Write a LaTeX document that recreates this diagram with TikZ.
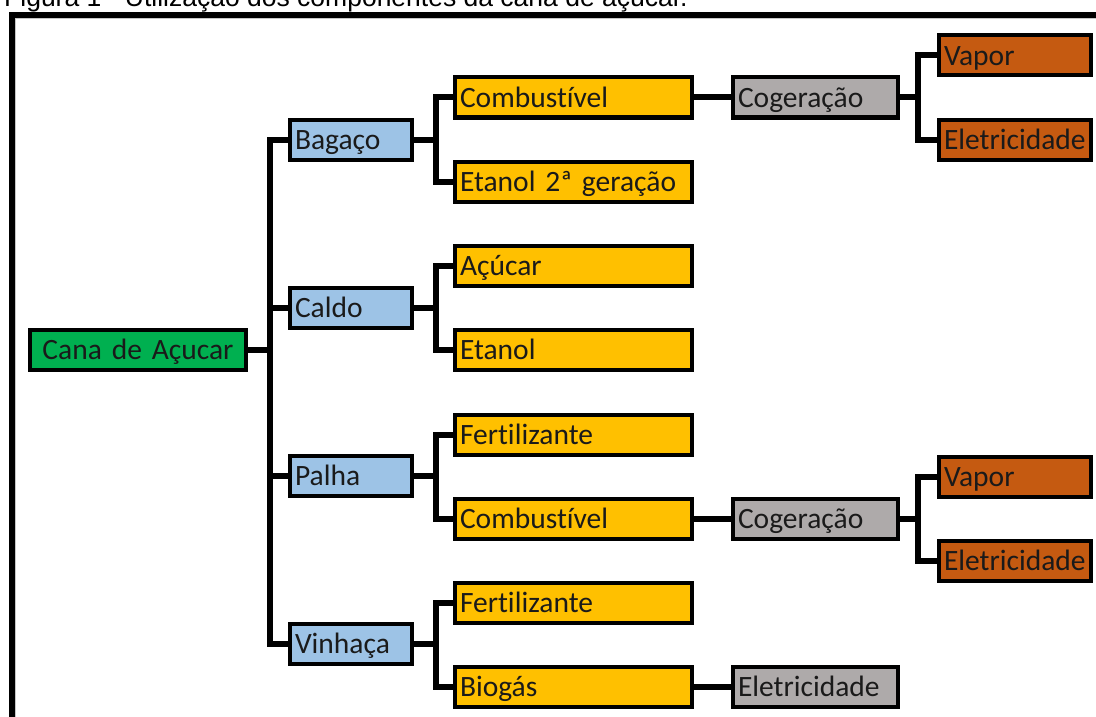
\documentclass[tikz,border=0pt]{standalone}
\usepackage{fontspec}
\usetikzlibrary{backgrounds}
\setmainfont[Ligatures={NoCommon}]{Carlito}
\newfontfamily\capfont{Liberation Sans}
\definecolor{cgreen}{HTML}{00B050}
\definecolor{cblue}{HTML}{9DC3E6}
\definecolor{cyellow}{HTML}{FFC000}
\definecolor{cgray}{HTML}{AEAAAA}
\definecolor{corange}{HTML}{C55A11}
\definecolor{ctext}{HTML}{1A1A1A}
\tikzset{
  x=1pt, y=-1pt,
  box/.style={draw=black, line width=4pt, rectangle, inner xsep=5pt, inner ysep=0pt, outer sep=0pt,
    minimum height=40pt, text height=22pt, text depth=2pt, align=left, anchor=west, text=ctext,
    font=\fontsize{29.5}{31}\selectfont},
  greenbox/.style={box, fill=cgreen, minimum width=216pt, align=center, text width=206pt},
  bluebox/.style={box, fill=cblue, text width=112pt},
  yellowbox/.style={box, fill=cyellow, text width=227pt},
  graybox/.style={box, fill=cgray, text width=155pt},
  orangebox/.style={box, fill=corange, text width=142pt},
  conn/.style={draw=black, line width=6pt, line join=miter},
  frame/.style={draw=black, line width=5.5pt},
}
\begin{document}
\begin{tikzpicture}
\useasboundingbox (0,0) rectangle (1096,717);
% frame and caption
\draw[frame] (12,760) -- (12,15) -- (1140,15);
\draw[gray!45, line width=1pt] (15.5,760) -- (15.5,18.5) -- (1140,18.5);
\node[anchor=base west, inner sep=0pt, font=\capfont\fontsize{26.5}{28}\selectfont] (cap) at (4,6.5)
  {Figura 1 - Utilização dos componentes da cana de açúcar.};
% nodes
\node[greenbox] (cana) at (30,349.5) {Cana de Açucar};
\node[bluebox] (bag) at (290,139.5) {Bagaço};
\node[bluebox] (cal) at (290,307.5) {Caldo};
\node[bluebox] (pal) at (290,475.5) {Palha};
\node[bluebox] (vin) at (290,643.5) {Vinhaça};
\node[yellowbox] (comb1) at (455,97.5) {Combustível};
\node[yellowbox] (etan2) at (455,181.5) {Etanol 2ª geração};
\node[yellowbox] (acu) at (455,265.5) {Açúcar};
\node[yellowbox] (etan) at (455,349.5) {Etanol};
\node[yellowbox] (fert1) at (455,434.5) {Fertilizante};
\node[yellowbox] (comb2) at (455,518.5) {Combustível};
\node[yellowbox] (fert2) at (455,602.5) {Fertilizante};
\node[yellowbox] (bio) at (455,686.5) {Biogás};
\node[graybox] (cog1) at (733,97.5) {Cogeração};
\node[graybox] (cog2) at (733,518.5) {Cogeração};
\node[graybox] (ele3) at (733,686.5) {Eletricidade};
\node[orangebox] (vap1) at (939,55.5) {Vapor};
\node[orangebox] (ele1) at (939,139.5) {Eletricidade};
\node[orangebox] (vap2) at (939,476.5) {Vapor};
\node[orangebox] (ele2) at (939,560.5) {Eletricidade};
% connectors
\begin{scope}[on background layer]
\foreach \c in {bag,cal,pal,vin} \draw[conn] (cana.east) -- ++(24,0) |- (\c.west);
\draw[conn] (bag.east) -- ++(24,0) |- (comb1.west);
\draw[conn] (bag.east) -- ++(24,0) |- (etan2.west);
\draw[conn] (cal.east) -- ++(24,0) |- (acu.west);
\draw[conn] (cal.east) -- ++(24,0) |- (etan.west);
\draw[conn] (pal.east) -- ++(24,0) |- (fert1.west);
\draw[conn] (pal.east) -- ++(24,0) |- (comb2.west);
\draw[conn] (vin.east) -- ++(24,0) |- (fert2.west);
\draw[conn] (vin.east) -- ++(24,0) |- (bio.west);
\draw[conn] (comb1.east) -- (cog1.west);
\draw[conn] (comb2.east) -- (cog2.west);
\draw[conn] (bio.east) -- (ele3.west);
\draw[conn] (cog1.east) -- ++(20,0) |- (vap1.west);
\draw[conn] (cog1.east) -- ++(20,0) |- (ele1.west);
\draw[conn] (cog2.east) -- ++(20,0) |- (vap2.west);
\draw[conn] (cog2.east) -- ++(20,0) |- (ele2.west);
\end{scope}
\end{tikzpicture}
\end{document}
